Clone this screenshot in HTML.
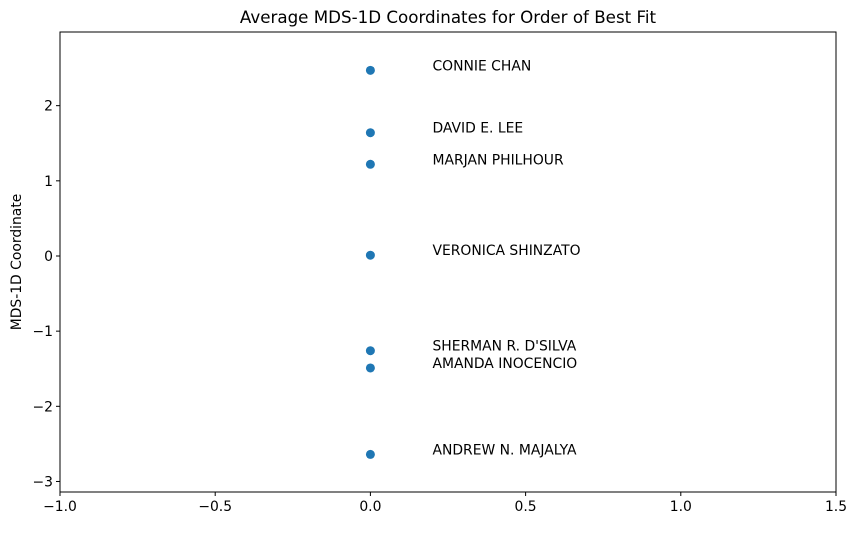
<!DOCTYPE html>
<html><head><meta charset="utf-8">
<style>
body{margin:0;background:#fff;font-family:"Liberation Sans","DejaVu Sans",sans-serif;}
svg text{font-family:"DejaVu Sans","Liberation Sans",sans-serif;}
</style></head>
<body>
<svg id="chart" width="855" height="528" viewBox="0 0 855 528">
<text x="448" y="23" text-anchor="middle" font-size="16.7">Average MDS-1D Coordinates for Order of Best Fit</text>
<text transform="translate(21,262) rotate(-90)" text-anchor="middle" font-size="13.9">MDS-1D Coordinate</text>
<g id="xticks"></g>
<g id="yticks"></g>
<g id="points"></g>
<rect x="60" y="32" width="776" height="460" fill="none" stroke="#000" stroke-width="1"/>
</svg>
<script>
const names=["CONNIE CHAN","DAVID E. LEE","MARJAN PHILHOUR","VERONICA SHINZATO","SHERMAN R. D'SILVA","AMANDA INOCENCIO","ANDREW N. MAJALYA"];
const xValues=[0,0,0,0,0,0,0];
const yValues=[2.47,1.64,1.22,0.01,-1.26,-1.49,-2.64];
const xTickValues=[-1,-0.5,0,0.5,1,1.5];
const xTickLabels=["\u22121.0","\u22120.5","0.0","0.5","1.0","1.5"];
const yTickValues=[2,1,0,-1,-2,-3];
const yTickLabels=["2","1","0","\u22121","\u22122","\u22123"];
const NS="http://www.w3.org/2000/svg";
const L=60,R=836,T=32,B=492,xmin=-1,xmax=1.5,ymin=-3.14,ymax=2.98;
const sx=v=>L+(v-xmin)/(xmax-xmin)*(R-L);
const sy=v=>B-(v-ymin)/(ymax-ymin)*(B-T);
function mk(tag,attrs,parent){const e=document.createElementNS(NS,tag);for(const k in attrs)e.setAttribute(k,attrs[k]);parent.appendChild(e);return e;}
const gx=document.getElementById('xticks'),gy=document.getElementById('yticks'),gp=document.getElementById('points');
xTickValues.forEach((v,i)=>{
 const x=sx(v);
 const l=mk('line',{x1:x,x2:x,y1:B,y2:B+4,stroke:'#000'},gx);
 
 
 const t=mk('text',{x:x,y:B+19,'text-anchor':'middle','font-size':13.9},gx);
 t.textContent=xTickLabels[i];
 
 
});
yTickValues.forEach((v,i)=>{
 const y=sy(v);
 const l=mk('line',{x1:L-4,x2:L,y1:y,y2:y,stroke:'#000'},gy);
 
 
 const t=mk('text',{x:L-7,y:y+5,'text-anchor':'end','font-size':13.9},gy);
 t.textContent=yTickLabels[i];
 
 
});
names.forEach((n,i)=>{
 const c=mk('circle',{cx:sx(xValues[i]),cy:sy(yValues[i]),r:4.5,fill:'#1f77b4'},gp);
 
 
 const t=mk('text',{x:sx(xValues[i]+0.2),y:sy(yValues[i]),'font-size':13.9},gp);
 t.textContent=n;
 
 
});
</script>
</body></html>
